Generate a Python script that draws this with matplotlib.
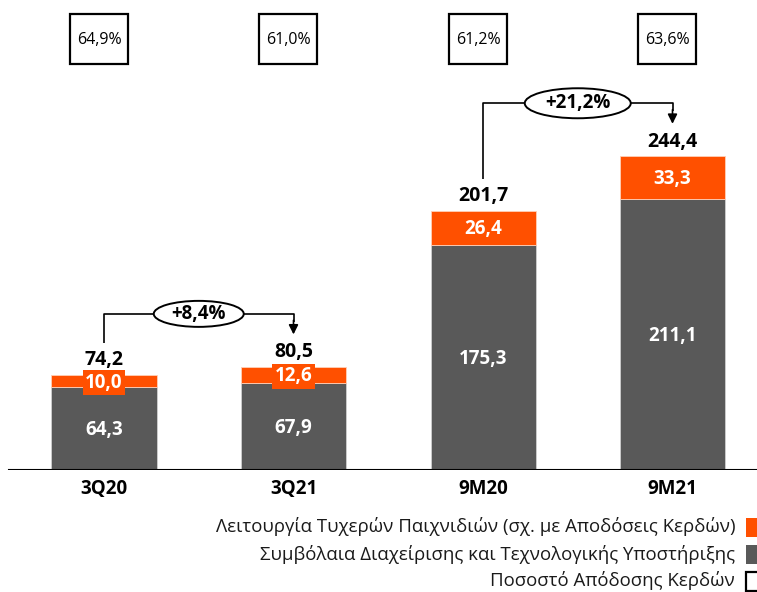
import matplotlib
matplotlib.use("Agg")
import matplotlib.pyplot as plt
from matplotlib.patches import Rectangle, Ellipse
from matplotlib.transforms import blended_transform_factory

plt.rcParams['font.family'] = ['Open Sans', 'DejaVu Sans']

# ---- data ----
categories = ["3Q20", "3Q21", "9M20", "9M21"]
contracts = [64.3, 67.9, 175.3, 211.1]          # grey segment
gaming = [10.0, 12.6, 26.4, 33.3]                # orange segment
totals = [74.2, 80.5, 201.7, 244.4]
payout = ["64,9%", "61,0%", "61,2%", "63,6%"]
growth_pairs = [(0, 1), (2, 3)]
growth_labels = ["+8,4%", "+21,2%"]
legend_labels = [
    "Λειτουργία Τυχερών Παιχνιδιών (σχ. με Αποδόσεις Κερδών)",
    "Συμβόλαια Διαχείρισης και Τεχνολογικής Υποστήριξης",
    "Ποσοστό Απόδοσης Κερδών",
]

ORANGE = "#FF5000"
GREY = "#595959"

def fmt(v):
    return f"{v:.1f}".replace(".", ",")

W, H = 757, 592
fig = plt.figure(figsize=(W / 100, H / 100), dpi=100)
base_px = 470  # baseline from top
ax = fig.add_axes([0, (H - base_px) / H, 1, base_px / H])
ax.set_axis_off()

xs = list(range(len(categories)))
spacing = 189.5
x0px = 104
ax.set_xlim(-x0px / spacing, 3 + (W - (x0px + 3 * spacing)) / spacing)
ax.set_ylim(0, base_px / 1.285)

bw = 105 / spacing
ax.bar(xs, contracts, width=bw, color=GREY, edgecolor="#d0d0d0", linewidth=0.6, zorder=2)
ax.bar(xs, gaming, width=bw, bottom=contracts, color=ORANGE, edgecolor="#ffd0b8",
       linewidth=0.6, zorder=2)

ax.axhline(0, xmin=9 / W, xmax=1, color="black", lw=1.5, zorder=3)

for x, c, g, t, cat in zip(xs, contracts, gaming, totals, categories):
    ax.annotate(fmt(c), (x, c / 2), xytext=(0, -4.8), textcoords="offset points",
                ha="center", va="baseline", color="white", fontsize=13.5,
                fontweight="bold", zorder=4)
    ax.annotate(fmt(g), (x, c + g / 2), xytext=(0, -4.8), textcoords="offset points",
                ha="center", va="baseline", color="white", fontsize=13.5,
                fontweight="bold", zorder=4,
                bbox=dict(boxstyle="square,pad=0.12", fc=ORANGE, ec="none"))
    ax.annotate(fmt(t), (x, t), xytext=(0, 6.8), textcoords="offset points",
                ha="center", va="baseline", color="black", fontsize=14,
                fontweight="bold", zorder=4)
    ax.annotate(cat, (x, 0), xytext=(0, -17.5), textcoords="offset points",
                ha="center", va="baseline", color="black", fontsize=13.5,
                fontweight="bold")

# payout ratio boxes
tr = blended_transform_factory(ax.transData, fig.transFigure)
bxw = 58 / spacing
bxh = 50 / H
box_off = -5 / spacing
for x, p in zip(xs, payout):
    ax.add_patch(Rectangle((x + box_off - bxw / 2, 1 - 64 / H), bxw, bxh,
                           transform=tr, fc="white", ec="black", lw=1.6,
                           clip_on=False, zorder=5))
    ax.text(x + box_off, 1 - 40 / H, p, transform=tr, ha="center", va="center",
            fontsize=11.5, color="black", zorder=6)

# growth arrows
ypx = 1.285
for (i, j), lab, ew, eh in zip(growth_pairs, growth_labels, [90, 106], [26, 30]):
    y_start = totals[i] + 25
    y_h = totals[j] + 41
    y_tip = totals[j] + 25
    ax.plot([xs[i], xs[i], xs[j], xs[j]], [y_start, y_h, y_h, y_h - 6],
            color="black", lw=1.2, zorder=4, solid_capstyle="butt")
    ax.annotate("", xy=(xs[j], y_tip), xytext=(xs[j], y_h - 5),
                arrowprops=dict(arrowstyle="-|>", color="black", lw=1.2,
                                mutation_scale=14, shrinkA=0, shrinkB=0), zorder=4)
    xm = (xs[i] + xs[j]) / 2
    ax.add_patch(Ellipse((xm, y_h), ew / spacing, eh / ypx, fc="white", ec="black",
                         lw=1.4, zorder=5))
    ax.text(xm, y_h, lab, ha="center", va="center", fontsize=13.5,
            fontweight="bold", zorder=6)

# legend (manual, right aligned)
leg_y = [527, 554, 581]
leg_fc = [ORANGE, GREY, "white"]
leg_ec = [ORANGE, GREY, "black"]
for lab, yy, fc, ec in zip(legend_labels, leg_y, leg_fc, leg_ec):
    fig.text(735 / W, 1 - yy / H, lab, ha="right", va="center", fontsize=13.4,
             color="#1a1a1a")
    fig.patches.append(Rectangle((746 / W, 1 - (yy + 9.5) / H), 20 / W, 19 / H,
                                 transform=fig.transFigure, fc=fc, ec=ec,
                                 lw=1.6 if fc == "white" else 0, figure=fig))

fig.savefig("out.png", dpi=100)
